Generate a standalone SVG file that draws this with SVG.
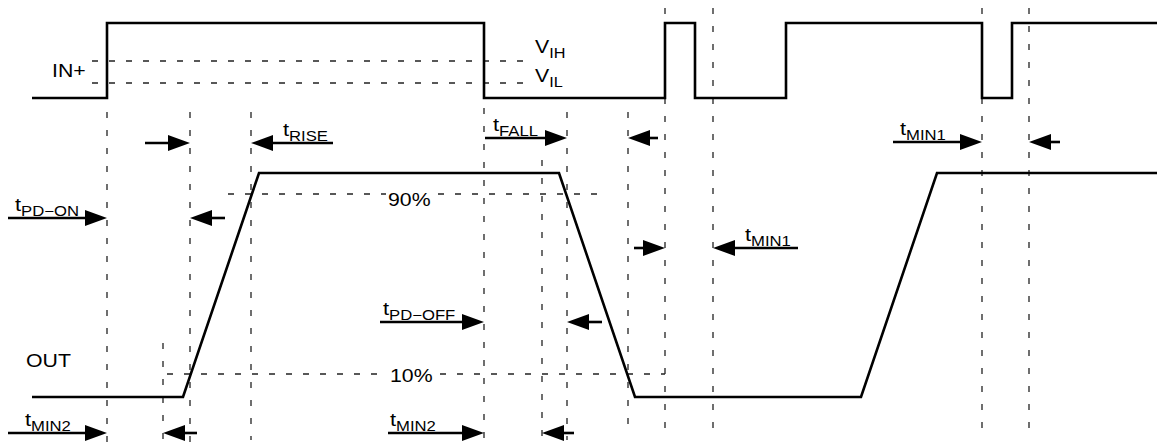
<svg xmlns="http://www.w3.org/2000/svg" width="1157" height="447" viewBox="0 0 1157 447">
<defs>
<style>
.wave{fill:none;stroke:#000;stroke-width:2.6;stroke-linejoin:miter;stroke-linecap:butt}
.vd{stroke:#222;stroke-width:1.3;stroke-dasharray:6 12;fill:none}
.hd{stroke:#222;stroke-width:1.3;stroke-dasharray:6 11;fill:none}
.arr{stroke:#000;stroke-width:2.6;fill:none;marker-end:url(#ah)}
text{font-family:"Liberation Sans",Arial,Helvetica,sans-serif;font-size:19px;fill:#000}
.s{font-size:14.5px}
</style>
<marker id="ah" markerUnits="userSpaceOnUse" viewBox="0 0 22 16" markerWidth="22" markerHeight="16" refX="12" refY="8" orient="auto">
<path d="M0,0 L22,8 L0,16 z" fill="#000"/>
</marker>
</defs>
<rect width="1157" height="447" fill="#fff"/>
<g id="guides">
<path class="hd" d="M92,61 H530 M92,83 H530"/>
<path class="hd" d="M228,194 H386 M438,194 H603"/>
<path class="hd" d="M167,374 H388 M440,374 H665"/>
<path class="vd" d="M107,112 V447 M190,112 V447 M251,112 V440 M163,343 V447 M484,108 V440 M542,160 V440 M567,112 V440 M628,112 V435 M665,8 V435 M713,8 V435 M982,8 V435 M1029,8 V435"/>
</g>
<g id="in-wave">
<path class="wave" d="M32,98 H107 V23 H484 V98 H665 V23 H695 V98 H786 V23 H982 V98 H1012 V23 H1157"/>
<text transform="translate(52,77) scale(1.12,1)">IN+</text>
<text transform="translate(535,53) scale(1.12,1)">V<tspan class="s" dy="5">IH</tspan></text>
<text transform="translate(535,82) scale(1.12,1)">V<tspan class="s" dy="5">IL</tspan></text>
</g>
<g id="out-wave">
<path class="wave" d="M32,397 H183 L259,173 H559 L635,397 H861 L937,173 H1157"/>
<text transform="translate(26,367) scale(1.12,1)">OUT</text>
<text transform="translate(388,206) scale(1.12,1)">90%</text>
<text transform="translate(390,382) scale(1.12,1)">10%</text>
</g>
<g id="connectors">
<path class="arr" d="M145,143 H180"/>
<path class="arr" d="M333,143 H261"/>
<path class="arr" d="M485,138 H557"/>
<path class="arr" d="M658,138 H638"/>
<path class="arr" d="M893,142 H972"/>
<path class="arr" d="M1060,142 H1039"/>
<path class="arr" d="M8,218 H97"/>
<path class="arr" d="M225,218 H200"/>
<path class="arr" d="M634,248 H655"/>
<path class="arr" d="M798,248 H723"/>
<path class="arr" d="M380,322 H474"/>
<path class="arr" d="M602,322 H577"/>
<path class="arr" d="M8,433 H97"/>
<path class="arr" d="M197,433 H173"/>
<path class="arr" d="M388,433 H474"/>
<path class="arr" d="M574,433 H552"/>
</g>
<g id="labels">
<text transform="translate(283,136) scale(1.15,1)">t<tspan class="s" dy="5">RISE</tspan></text>
<text transform="translate(493,131) scale(1.15,1)">t<tspan class="s" dy="5">FALL</tspan></text>
<text transform="translate(900,135) scale(1.15,1)">t<tspan class="s" dy="5">MIN1</tspan></text>
<text transform="translate(15,211) scale(1.15,1)">t<tspan class="s" dy="5">PD−ON</tspan></text>
<text transform="translate(745,241) scale(1.15,1)">t<tspan class="s" dy="5">MIN1</tspan></text>
<text transform="translate(383,315) scale(1.15,1)">t<tspan class="s" dy="5">PD−OFF</tspan></text>
<text transform="translate(25,426) scale(1.15,1)">t<tspan class="s" dy="5">MIN2</tspan></text>
<text transform="translate(390,426) scale(1.15,1)">t<tspan class="s" dy="5">MIN2</tspan></text>
</g>
</svg>
